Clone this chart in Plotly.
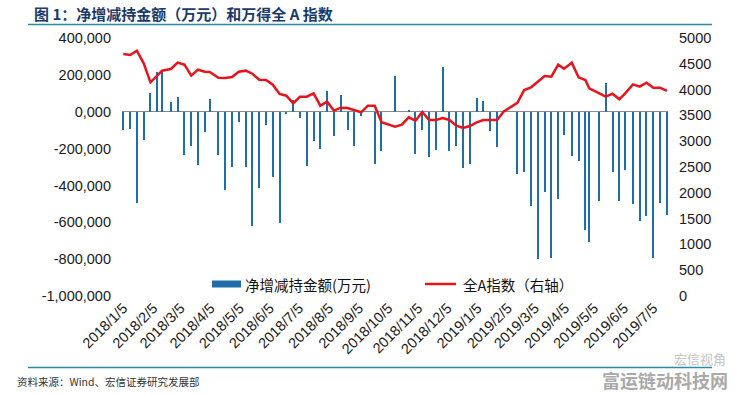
import plotly.graph_objects as go

# ---------------- data ----------------
dates = [
    "2018-01-05", "2018-01-12", "2018-01-19", "2018-01-26", "2018-02-02", "2018-02-09", "2018-02-14",
    "2018-02-23", "2018-03-02", "2018-03-09", "2018-03-16", "2018-03-23", "2018-03-30", "2018-04-04",
    "2018-04-13", "2018-04-20", "2018-04-27", "2018-05-04", "2018-05-11", "2018-05-18", "2018-05-25",
    "2018-06-01", "2018-06-08", "2018-06-15", "2018-06-22", "2018-06-29", "2018-07-06", "2018-07-13",
    "2018-07-20", "2018-07-27", "2018-08-03", "2018-08-10", "2018-08-17", "2018-08-24", "2018-08-31",
    "2018-09-07", "2018-09-14", "2018-09-21", "2018-09-28", "2018-10-12", "2018-10-19", "2018-10-26",
    "2018-11-02", "2018-11-09", "2018-11-16", "2018-11-23", "2018-11-30", "2018-12-07", "2018-12-14",
    "2018-12-21", "2018-12-28", "2019-01-04", "2019-01-11", "2019-01-18", "2019-01-25", "2019-02-01",
    "2019-02-15", "2019-02-22", "2019-03-01", "2019-03-08", "2019-03-15", "2019-03-22", "2019-03-29",
    "2019-04-04", "2019-04-12", "2019-04-19", "2019-04-26", "2019-04-30", "2019-05-10", "2019-05-17",
    "2019-05-24", "2019-05-31", "2019-06-06", "2019-06-14", "2019-06-21", "2019-06-28", "2019-07-05",
    "2019-07-12", "2019-07-19",
]

net_change = [
    -99000, -96000, -497000, -153000, 103000, 217000, 213000,
    54000, 81000, -237000, -188000, -291000, -112000, 70000,
    -237000, -426000, -302000, -58000, -298000, -621000, -414000,
    -70000, -356000, -602000, -12000, 63000, -36000, -293000,
    -161000, -204000, 114000, -134000, 92000, -99000, -188000,
    -25000, None, -284000, -215000, 195000, None, 11000,
    -229000, -99000, -248000, -208000, 244000, -215000, -186000,
    -305000, -286000, 76000, 60000, -107000, -190000, None,
    -338000, -329000, -513000, -800000, -437000, -795000, -472000,
    -128000, -238000, -269000, -640000, -708000, -486000, 157000,
    -329000, -486000, -318000, -502000, -595000, -567000, -795000,
    -497000, -560000,
]

wind_all_a = [
    4690, 4670, 4754, 4509, 4141, 4270, 4367,
    4399, 4522, 4483, 4270, 4386, 4347, 4341,
    4231, 4225, 4244, 4347, 4367, 4308, 4192,
    4186, 4095, 3915, 3882, 3734, 3863, 3863,
    3928, 3688, 3766, 3591, 3649, 3643, 3605,
    3560, 3688, 3688, 3366, 3281, 3320, 3463,
    3398, 3566, 3411, 3411, 3450, 3411, 3300,
    3256, 3295, 3366, 3411, 3411, 3411, 3575,
    3745, 3992, 4044, 4153, 4264, 4250, 4483,
    4405, 4522, 4238, 4186, 4025, 3928, 3863,
    3921, 3812, 3928, 4102, 4057, 4134, 4037,
    4037, 3973,
]

x_tick_dates = [
    "2018-01-05", "2018-02-05", "2018-03-05", "2018-04-05", "2018-05-05", "2018-06-05", "2018-07-05",
    "2018-08-05", "2018-09-05", "2018-10-05", "2018-11-05", "2018-12-05", "2019-01-05", "2019-02-05",
    "2019-03-05", "2019-04-05", "2019-05-05", "2019-06-05", "2019-07-05",
]
x_tick_labels = [
    "2018/1/5", "2018/2/5", "2018/3/5", "2018/4/5", "2018/5/5", "2018/6/5", "2018/7/5",
    "2018/8/5", "2018/9/5", "2018/10/5", "2018/11/5", "2018/12/5", "2019/1/5", "2019/2/5",
    "2019/3/5", "2019/4/5", "2019/5/5", "2019/6/5", "2019/7/5",
]
left_tick_vals = [-1000000, -800000, -600000, -400000, -200000, 0, 200000, 400000]
left_tick_labels = ["-1,000,000", "-800,000", "-600,000", "-400,000", "-200,000", "0,000", "200,000", "400,000"]
right_tick_vals = [0, 500, 1000, 1500, 2000, 2500, 3000, 3500, 4000, 4500, 5000]

bar_name = "净增减持金额(万元)"
line_name = "全A指数（右轴）"
title_text = "图 1：净增减持金额（万元）和万得全 A 指数"
source_text = "资料来源：Wind、宏信证券研究发展部"

# ---------------- layout geometry ----------------
W, H = 736, 395
L, R, T, B = 122, 68, 38, 99
PW, PH = W - L - R, H - T - B

def px(x):
    return (x - L) / PW

def py(y):
    return (H - B - y) / PH

BAR_COLOR = "#1f6eaa"
LINE_COLOR = "#e8141b"
TICK_FONT = dict(family="Liberation Sans, Arial, sans-serif", size=14.5, color="#1a1a1a")
CJK = "Noto Sans CJK SC, sans-serif"

fig = go.Figure()
fig.add_trace(go.Bar(
    x=dates, y=net_change, name=bar_name, marker=dict(color=BAR_COLOR, line=dict(width=0)),
    width=1.1 * 86400000, showlegend=False, yaxis="y",
))
fig.add_trace(go.Scatter(
    x=dates, y=wind_all_a, name=line_name, mode="lines",
    line=dict(color=LINE_COLOR, width=2.5), showlegend=False, yaxis="y2",
))

shapes = [
    # title rule and footer rule
    dict(type="line", xref="paper", yref="paper", x0=px(28), x1=px(712), y0=py(24.5), y1=py(24.5),
         line=dict(color="#2b8ba6", width=1.5)),
    dict(type="line", xref="paper", yref="paper", x0=px(28), x1=px(712), y0=py(367.5), y1=py(367.5),
         line=dict(color="#2b8ba6", width=1.5)),
    # legend symbols
    dict(type="rect", xref="paper", yref="paper", x0=px(212), x1=px(241), y0=py(287.5), y1=py(280.5),
         fillcolor=BAR_COLOR, line=dict(width=0)),
    dict(type="line", xref="paper", yref="paper", x0=px(425), x1=px(456), y0=py(284), y1=py(284),
         line=dict(color=LINE_COLOR, width=2.5)),
]

annotations = [
    dict(text="<b>" + title_text + "</b>", xref="paper", yref="paper", x=px(32), y=py(13),
         xanchor="left", yanchor="middle", showarrow=False,
         font=dict(family=CJK, size=15, color="#1b3a6b")),
    dict(text=bar_name, xref="paper", yref="paper", x=px(243), y=py(284),
         xanchor="left", yanchor="middle", showarrow=False,
         font=dict(family=CJK, size=14.5, color="#111111")),
    dict(text=line_name, xref="paper", yref="paper", x=px(461), y=py(284),
         xanchor="left", yanchor="middle", showarrow=False,
         font=dict(family=CJK, size=14.5, color="#111111")),
    dict(text=source_text, xref="paper", yref="paper", x=px(15), y=py(381),
         xanchor="left", yanchor="middle", showarrow=False,
         font=dict(family=CJK, size=10.5, color="#333333")),
    dict(text="宏信视角", xref="paper", yref="paper", x=px(728), y=py(358),
         xanchor="right", yanchor="middle", showarrow=False,
         font=dict(family=CJK, size=13, color="#c4c4c4")),
    dict(text="<b>富运链动科技网</b>", xref="paper", yref="paper", x=px(730), y=py(380),
         xanchor="right", yanchor="middle", showarrow=False,
         font=dict(family=CJK, size=18, color="#a9a9a9")),
]

fig.update_layout(
    width=W, height=H, margin=dict(l=L, r=R, t=T, b=B, pad=0),
    paper_bgcolor="white", plot_bgcolor="white",
    bargap=0, showlegend=False,
    xaxis=dict(
        type="date", range=["2018-01-03 16:00", "2019-07-20 03:00"],
        tickmode="array", tickvals=x_tick_dates, ticktext=x_tick_labels, tickangle=-45,
        showgrid=False, zeroline=False, showline=False, ticks="", tickfont=TICK_FONT,
    ),
    yaxis=dict(
        range=[-1000000, 400000], tickmode="array", tickvals=left_tick_vals, ticktext=left_tick_labels,
        showgrid=False, zeroline=True, zerolinecolor="#8a8a8a", zerolinewidth=1,
        showline=False, ticks="", tickfont=TICK_FONT, ticklabelstandoff=10,
    ),
    yaxis2=dict(
        range=[0, 5000], overlaying="y", side="right", tickmode="array", tickvals=right_tick_vals,
        showgrid=False, zeroline=False, showline=False, ticks="", tickfont=TICK_FONT,
        ticklabelstandoff=10,
    ),
    shapes=shapes, annotations=annotations,
)

fig.write_html(
    "out.html",
    config={"displayModeBar": False},
    post_script="document.body.style.margin='0px';document.body.style.padding='0px';",
)
